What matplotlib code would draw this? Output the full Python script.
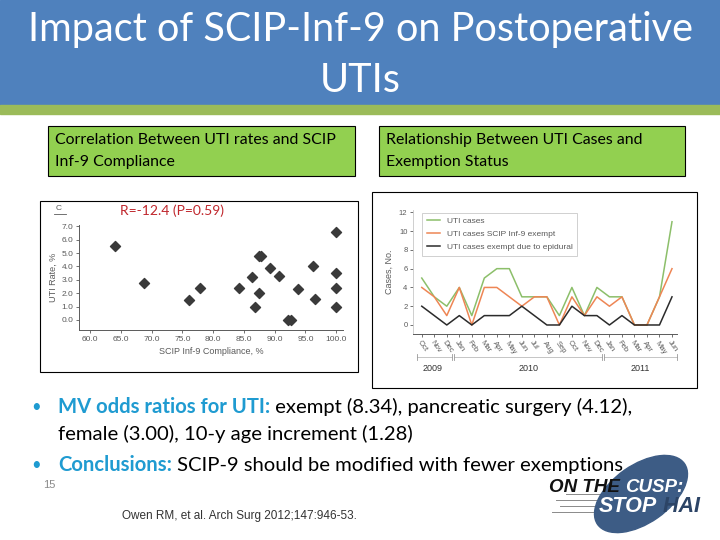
import matplotlib
matplotlib.use("Agg")
import matplotlib.pyplot as plt
from matplotlib.patches import Rectangle, Ellipse

# ==============================
# DATA
# ==============================
compliance = [64.0, 68.7, 76.1, 77.9, 84.2, 86.3, 86.8, 87.4, 87.4, 87.8, 89.2,
              90.7, 92.2, 92.6, 93.8, 96.2, 96.6, 100.0, 100.0, 100.0, 100.0]
uti_rate = [5.5, 2.8, 1.5, 2.4, 2.4, 3.2, 1.0, 2.0, 4.8, 4.8, 3.9,
            3.3, 0.0, 0.0, 2.3, 4.0, 1.6, 6.6, 3.5, 2.4, 1.0]

months = ["Oct", "Nov", "Dec",
          "Jan", "Feb", "Mar", "Apr", "May", "Jun", "Jul", "Aug", "Sep", "Oct", "Nov", "Dec",
          "Jan", "Feb", "Mar", "Apr", "May", "Jun"]
uti_cases = [5, 3, 2, 4, 1, 5, 6, 6, 3, 3, 3, 1, 4, 1, 4, 3, 3, 0, 0, 3, 11]
scip_exempt = [4, 3, 1, 4, 0, 4, 4, 3, 2, 3, 3, 0, 3, 1, 3, 2, 3, 0, 0, 3, 6]
epidural_exempt = [2, 1, 0, 1, 0, 1, 1, 1, 2, 1, 0, 0, 2, 1, 1, 0, 1, 0, 0, 0, 3]
years = [("2009", 0, 2), ("2010", 3, 14), ("2011", 15, 20)]

W, H = 720, 540
SLIDE_FONT = ["Lato", "DejaVu Sans"]
CHART_FONT = ["Liberation Sans Narrow", "Liberation Sans", "DejaVu Sans"]
GREY = "#5a5a5a"

fig = plt.figure(figsize=(7.2, 5.4), dpi=100)
fig.patch.set_facecolor("white")

# background axes in pixel units (y down)
bg = fig.add_axes([0, 0, 1, 1])
bg.set_xlim(0, W)
bg.set_ylim(H, 0)
bg.axis("off")

# header band
bg.add_patch(Rectangle((0, 0), W, 105, color="#4F81BD", zorder=0))
bg.add_patch(Rectangle((0, 105), W, 9, color="#9BBB59", zorder=0))
bg.text(360, 30, "Impact of SCIP-Inf-9 on Postoperative", ha="center", va="center",
        color="white", fontsize=28.5, family=SLIDE_FONT)
bg.text(360, 81, "UTIs", ha="center", va="center",
        color="white", fontsize=28.5, family=SLIDE_FONT)

# green caption boxes
bg.add_patch(Rectangle((48, 126), 307, 50, fc="#92D050", ec="black", lw=0.8))
bg.add_patch(Rectangle((379, 126), 306, 50, fc="#92D050", ec="black", lw=0.8))
bg.text(55, 140, "Correlation Between UTI rates and SCIP", va="center",
        fontsize=11.4, family=SLIDE_FONT)
bg.text(55, 162, "Inf-9 Compliance", va="center", fontsize=11.4, family=SLIDE_FONT)
bg.text(386, 140, "Relationship Between UTI Cases and", va="center",
        fontsize=11.4, family=SLIDE_FONT)
bg.text(386, 162, "Exemption Status", va="center", fontsize=11.4, family=SLIDE_FONT)

# chart frames
bg.add_patch(Rectangle((40, 201), 318, 171, fill=False, ec="black", lw=0.8))
bg.add_patch(Rectangle((372, 192), 325, 196, fill=False, ec="black", lw=0.8))

renderer = fig.canvas.get_renderer()


def rich(x, y, parts, **kw):
    # draw text pieces one after another on the same baseline
    for s, c, w, st in parts:
        t = bg.text(x, y, s, color=c, fontweight=w, fontstyle=st, **kw)
        x += t.get_window_extent(renderer).width


# ==============================
# LEFT: SCATTER
# ==============================
bg.text(56, 209, "C", fontsize=6, color=GREY, va="center", family=CHART_FONT)
bg.plot([54, 66], [214, 214], color=GREY, lw=0.6)
bg.text(120, 211, "R=-12.4 (P=0.59)", fontsize=10, color="#C0272D", va="center",
        family=SLIDE_FONT)

ax1 = fig.add_axes([79 / W, (H - 330) / H, 264 / W, 105 / H])
ax1.scatter(compliance, uti_rate, marker="D", s=26, color="#3a3a3a", zorder=3)
ax1.set_xlim(58.2, 101.1)
ax1.set_ylim(-0.75, 7.1)
ax1.set_xticks([60, 65, 70, 75, 80, 85, 90, 95, 100])
ax1.set_xticklabels([f"{v:.1f}" for v in ax1.get_xticks()])
ax1.set_yticks(range(0, 8))
ax1.set_yticklabels([f"{v:.1f}" for v in range(0, 8)])
for s in ["top", "right"]:
    ax1.spines[s].set_visible(False)
for s in ["left", "bottom"]:
    ax1.spines[s].set_color(GREY)
    ax1.spines[s].set_linewidth(0.7)
ax1.tick_params(labelsize=6, colors=GREY, length=2, width=0.6, pad=2)
for lbl in ax1.get_xticklabels() + ax1.get_yticklabels():
    lbl.set_family(CHART_FONT)
ax1.set_xlabel("SCIP Inf-9 Compliance, %", fontsize=6.5, color=GREY,
               family=CHART_FONT, labelpad=3)
ax1.set_ylabel("UTI Rate, %", fontsize=6.5, color=GREY, family=CHART_FONT, labelpad=3)
ax1.patch.set_alpha(0)

# ==============================
# RIGHT: LINES
# ==============================
ax2 = fig.add_axes([413 / W, (H - 334) / H, 264 / W, 124 / H])
x = list(range(len(months)))
ax2.plot(x, uti_cases, color="#8CBF6A", lw=1.1, label="UTI cases")
ax2.plot(x, scip_exempt, color="#EE8655", lw=1.1, label="UTI cases SCIP Inf-9 exempt")
ax2.plot(x, epidural_exempt, color="#2b2b2b", lw=1.1,
         label="UTI cases exempt due to epidural")
ax2.set_xlim(-0.7, 20.4)
ax2.set_ylim(-0.96, 12.25)
ax2.set_yticks(range(0, 13, 2))
ax2.set_xticks(x)
ax2.set_xticklabels(months, rotation=-55, ha="left", va="top", rotation_mode="anchor")
for s in ["top", "right"]:
    ax2.spines[s].set_visible(False)
ax2.spines["left"].set_color("#c8c8c8")
ax2.spines["bottom"].set_color(GREY)
ax2.spines["left"].set_linewidth(0.6)
ax2.spines["bottom"].set_linewidth(0.7)
ax2.tick_params(labelsize=5.5, colors=GREY, length=2, width=0.6, pad=2)
for lbl in ax2.get_xticklabels() + ax2.get_yticklabels():
    lbl.set_family(CHART_FONT)
ax2.set_ylabel("Cases, No.", fontsize=6.5, color=GREY, family=CHART_FONT, labelpad=4)
leg = ax2.legend(loc="upper left", bbox_to_anchor=(0.02, 1.01), frameon=True,
                 fancybox=False, handlelength=1.6, borderpad=0.55, labelspacing=0.6,
                 prop={"family": CHART_FONT, "size": 6})
leg.get_frame().set_edgecolor("#bbbbbb")
leg.get_frame().set_linewidth(0.6)
for t in leg.get_texts():
    t.set_color(GREY)
ax2.patch.set_alpha(0)

# year brackets under month labels
xt = ax2.get_xaxis_transform()
for name, i0, i1 in years:
    a, b = i0 - 0.4, i1 + 0.4
    ax2.plot([a, b], [-0.185, -0.185], transform=xt, color="#bbbbbb", lw=0.6,
             clip_on=False)
    for e in (a, b):
        ax2.plot([e, e], [-0.16, -0.21], transform=xt, color="#999999", lw=0.6,
                 clip_on=False)
    ax2.text((i0 + i1) / 2 if name != "2009" else 0.9, -0.28, name, transform=xt,
             ha="center", va="center", fontsize=6.5, color="#333333",
             family=CHART_FONT)

# ==============================
# BULLETS AND FOOTER
# ==============================
BLUE = "#1F9BD1"
FS = 14.6
bg.text(31, 407, "\u2022", fontsize=12, color=BLUE, va="center", family=SLIDE_FONT)
rich(58, 407, [("MV odds ratios for UTI:", BLUE, "bold", "normal"),
               (" exempt (8.34), pancreatic surgery (4.12),", "black", "normal", "normal")],
     fontsize=FS, va="center", family=SLIDE_FONT)
bg.text(58, 434, "female (3.00), 10-y age increment (1.28)", fontsize=FS, va="center",
        family=SLIDE_FONT)
bg.text(31, 465, "\u2022", fontsize=12, color=BLUE, va="center", family=SLIDE_FONT)
rich(58, 465, [("Conclusions:", BLUE, "bold", "normal"),
               (" SCIP-9 should be modified with fewer exemptions", "black", "normal", "normal")],
     fontsize=FS, va="center", family=SLIDE_FONT)

bg.text(43, 485, "15", fontsize=8, color="#8a8a8a", va="center", family=CHART_FONT)
bg.text(122, 516, "Owen RM, et al. Arch Surg 2012;147:946-53.", fontsize=8.5,
        color="#333333", va="center", family=CHART_FONT)

# logo
bg.add_patch(Ellipse((641, 494), 106, 58, angle=-35, color="#3D5C85", zorder=2))
for yy, x0 in [(494, 566), (500, 556), (506, 560), (512, 552)]:
    bg.plot([x0, 612], [yy, yy], color="#8a8a8a", lw=0.7, zorder=1)
rich(549, 487, [("ON THE ", "#111111", "bold", "italic"),
                ("CUSP:", "white", "bold", "italic")],
     fontsize=13.5, va="center", family=["Liberation Sans", "DejaVu Sans"], zorder=3)
rich(599, 506, [("STOP", "white", "bold", "italic"),
                (" HAI", "#2C4466", "bold", "italic")],
     fontsize=15.5, va="center", family=["Liberation Sans", "DejaVu Sans"], zorder=3)

fig.savefig("out.png", dpi=100)
